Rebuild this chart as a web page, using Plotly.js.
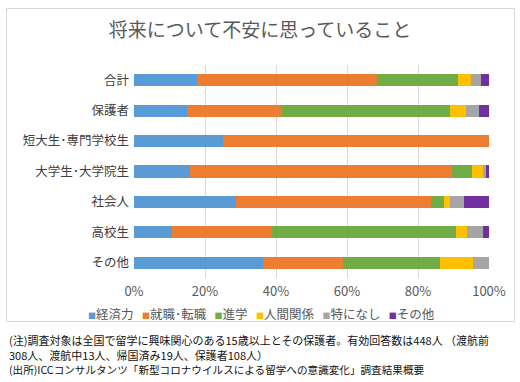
<!DOCTYPE html>
<html>
<head>
<meta charset="utf-8">
<script src="https://cdn.plot.ly/plotly-3.0.1.min.js"></script>
<style>
html,body{margin:0;padding:0;background:#fff;}
#chart{width:520px;height:382px;}
</style>
</head>
<body>
<div id="chart"></div>
<script>
const categories = ['合計','保護者','短大生･専門学校生','大学生･大学院生','社会人','高校生','その他'];
const seriesNames = ['経済力','就職･転職','進学','人間関係','特になし','その他'];
const keizairyoku = [17.8, 14.8, 25.0, 15.8, 28.6, 10.8, 36.2];
const shushoku   = [50.7, 26.9, 75.0, 73.9, 55.0, 28.2, 22.7];
const shingaku   = [22.9, 47.2, 0,    5.6,  3.8, 51.6, 27.4];
const ningen     = [3.4,  4.6,  0,    2.9,  1.5,  3.1,  9.1];
const tokuninashi= [2.9,  3.7,  0,    1.0,  4.1,  4.7,  4.6];
const sonota     = [2.3,  2.8,  0,    0.8,  7.0,  1.6,  0];
const xTickVals = [0,20,40,60,80,100];
const xTickText = ['0%','20%','40%','60%','80%','100%'];
const colors = ['#5B9BD5','#ED7D31','#70AD47','#FFC000','#A5A5A5','#7030A0'];
const notes = [
  '(注)調査対象は全国で留学に興味関心のある15歳以上とその保護者。有効回答数は448人 （渡航前',
  '308人、渡航中13人、帰国済み19人、保護者108人）',
  '(出所)ICCコンサルタンツ「新型コロナウイルスによる留学への意識変化」調査結果概要'
];
const noteSizes = [11, 11, 10.6];

const allSeries = [keizairyoku, shushoku, shingaku, ningen, tokuninashi, sonota];
const traces = allSeries.map((vals, i) => ({
  type: 'bar', orientation: 'h',
  x: vals, y: categories, name: seriesNames[i],
  marker: {color: colors[i], line: {width: 0}},
  hoverinfo: 'skip', showlegend: false
}));

const font = "'Noto Sans CJK JP', 'Noto Sans', sans-serif";
// paper coordinate helpers (plot area 134..489 x, 65..278 y)
const L = 134, R = 489, T = 65, B = 278;
const px = x => (x - L) / (R - L);
const py = y => (B - y) / (B - T);

const legendText = seriesNames.map((n, i) =>
  '<span style="color:' + colors[i] + ';font-size:8px">■</span>' + n).join('   ');

const annotations = [
  {xref:'paper', yref:'paper', x: px(261), y: py(313), xanchor:'center', yanchor:'middle',
   text: legendText, showarrow:false, font:{family:font, size:12.5, color:'#595959'}}
];
const noteY = [340, 354.5, 369];
notes.forEach((t, i) => annotations.push({
  xref:'paper', yref:'paper', x: px(7), y: py(noteY[i]), xanchor:'left', yanchor:'middle',
  text: t, showarrow:false, font:{family:font, size:noteSizes[i], color:'#111111'}
}));

const layout = {
  width: 520, height: 382,
  margin: {l: L, r: 520 - R, t: T, b: 382 - B},
  paper_bgcolor: '#ffffff', plot_bgcolor: '#ffffff',
  barmode: 'stack', bargap: 0.6,
  title: {text: '将来について不安に思っていること', x: 260/520, xref: 'container', xanchor: 'center',
          y: 1 - 30/382, yref: 'container', yanchor: 'middle',
          font: {family: font, size: 19, color: '#595959'}},
  xaxis: {range: [0, 100], tickvals: xTickVals, ticktext: xTickText,
          showgrid: true, gridcolor: '#D9D9D9', gridwidth: 1, zeroline: false,
          showline: false, ticks: '', fixedrange: true, ticklabelstandoff: 4,
          tickfont: {family: font, size: 13, color: '#595959'}},
  yaxis: {autorange: 'reversed', showgrid: false, zeroline: false, showline: false,
          ticks: '', ticklabelstandoff: 4,
          tickfont: {family: font, size: 12.5, color: '#404040'}},
  shapes: [{type: 'rect', xref: 'paper', yref: 'paper',
            x0: px(6.5), x1: px(514.5), y0: py(8.5), y1: py(321.5),
            line: {color: '#D9D9D9', width: 1}, fillcolor: 'rgba(0,0,0,0)', layer: 'below'}],
  annotations: annotations,
  showlegend: false
};

Plotly.newPlot('chart', traces, layout, {displayModeBar: false, staticPlot: true});
</script>
</body>
</html>
